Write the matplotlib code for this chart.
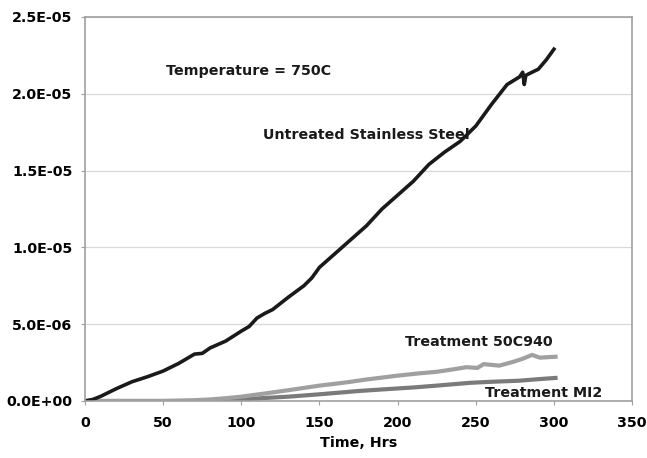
import matplotlib
matplotlib.use("Agg")
import matplotlib.pyplot as plt
from matplotlib.ticker import FuncFormatter

# values (y in units of 1e-6)
t_untreated = [0, 5, 10, 20, 30, 40, 50, 60, 70, 75, 80, 90, 100, 105, 110, 115, 120,
               130, 140, 145, 150, 160, 170, 180, 190, 200, 210, 220, 230, 240, 250,
               260, 270, 278, 280, 281, 282, 290, 295, 300]
y_untreated = [0, 0.1, 0.3, 0.8, 1.25, 1.58, 1.95, 2.45, 3.05, 3.1, 3.45, 3.9, 4.55, 4.85,
               5.4, 5.7, 5.95, 6.75, 7.5, 8.0, 8.7, 9.6, 10.5, 11.4, 12.5, 13.4, 14.3,
               15.4, 16.2, 16.9, 17.9, 19.3, 20.6, 21.1, 21.4, 20.6, 21.2, 21.6, 22.2, 22.9]

t_50c940 = [0, 50, 70, 80, 90, 100, 110, 116, 130, 140, 150, 160, 170, 180, 193, 200, 214,
            225, 235, 244, 251, 255, 265, 274, 280, 286, 291, 296, 301]
y_50c940 = [0, 0, 0.05, 0.1, 0.18, 0.28, 0.42, 0.5, 0.7, 0.85, 1.0, 1.12, 1.25, 1.4, 1.56,
            1.65, 1.8, 1.9, 2.05, 2.2, 2.15, 2.4, 2.3, 2.55, 2.75, 3.0, 2.82, 2.85, 2.88]

t_mi2 = [0, 80, 90, 100, 116, 130, 148, 160, 175, 193, 210, 225, 246, 260, 278, 290, 301]
y_mi2 = [0, 0, 0.04, 0.1, 0.2, 0.28, 0.42, 0.52, 0.65, 0.77, 0.88, 1.0, 1.18, 1.25, 1.32,
         1.42, 1.5]

plt.rcParams["font.family"] = "DejaVu Sans"
plt.rcParams["font.weight"] = "bold"
FS = 10.3

fig = plt.figure(figsize=(6.47, 4.58), dpi=100)
ax = fig.add_axes([0.1314, 0.1245, 0.8456, 0.8385])

sc = 1e-6
ax.plot(t_mi2, [v * sc for v in y_mi2], color="#7a7a7a", lw=3)
ax.plot(t_50c940, [v * sc for v in y_50c940], color="#a0a0a0", lw=3)
ax.plot(t_untreated, [v * sc for v in y_untreated], color="#1a1a1a", lw=2.6)

ax.set_xlim(0, 350)
ax.set_ylim(0, 2.5e-5)
ax.set_xticks(range(0, 351, 50))
ax.set_yticks([i * 5e-6 for i in range(6)])
ax.yaxis.set_major_formatter(FuncFormatter(lambda v, p: f"{v:.1E}"))
ax.grid(axis="y", color="#d8d8d8", lw=0.9)
ax.set_axisbelow(True)
for s in ax.spines.values():
    s.set_color("#a0a0a0")
    s.set_linewidth(1.2)
ax.tick_params(axis="y", length=3, color="#a0a0a0", labelsize=FS, pad=6)
ax.tick_params(axis="x", length=3, color="#a0a0a0", labelsize=FS, pad=8)
ax.set_xlabel("Time, Hrs", fontsize=FS, fontweight="bold", labelpad=4)

kw = dict(fontsize=FS, fontweight="bold", color="#1a1a1a", va="center")
ax.text(52, 21.5e-6, "Temperature = 750C", **kw)
ax.text(114, 17.3e-6, "Untreated Stainless Steel", **kw)
ax.text(204.7, 3.84e-6, "Treatment 50C940", **kw)
ax.text(256, 0.52e-6, "Treatment MI2", **kw)

fig.savefig("out.png", dpi=100)
